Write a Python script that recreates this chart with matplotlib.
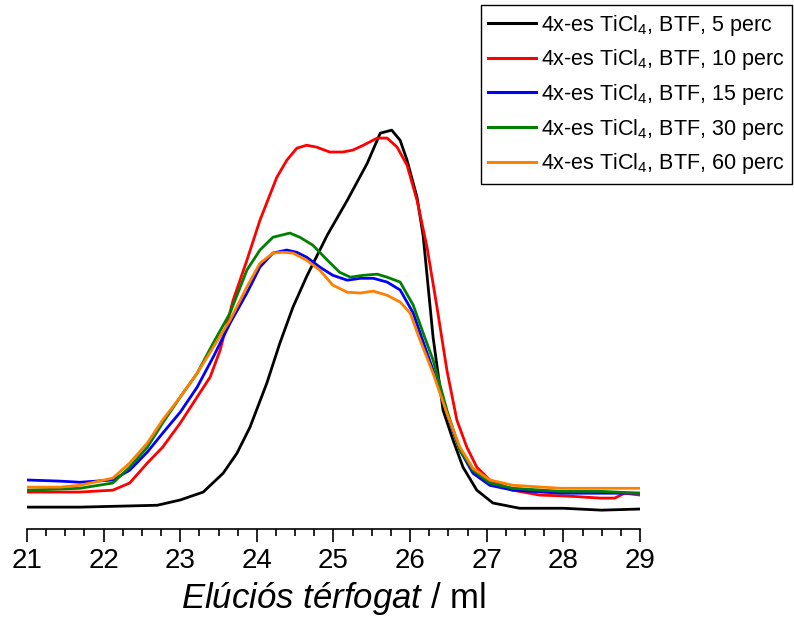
import matplotlib.pyplot as plt
import numpy as np

plt.rcParams['font.family'] = ['Liberation Sans', 'DejaVu Sans']
plt.rcParams['mathtext.fontset'] = 'custom'
plt.rcParams['mathtext.rm'] = 'Liberation Sans'
plt.rcParams['mathtext.it'] = 'Liberation Sans:italic'

# elúciós térfogat (ml) és normált jel, leolvasva
x_5 = [21.0, 21.69, 22.70, 23.00, 23.30, 23.56, 23.74, 23.91, 24.13, 24.30, 24.47, 24.65,
       24.92, 25.18, 25.44, 25.61, 25.76, 25.87, 25.96, 26.09, 26.17, 26.30, 26.43, 26.56,
       26.69, 26.87, 27.08, 27.43, 28.0, 28.5, 29.0]
y_5 = [0.0, 0.0, 0.005, 0.019, 0.04, 0.09, 0.143, 0.212, 0.329, 0.435, 0.53, 0.612,
       0.722, 0.814, 0.912, 0.992, 1.0, 0.973, 0.92, 0.822, 0.72, 0.45, 0.257, 0.178,
       0.106, 0.045, 0.011, -0.003, -0.003, -0.008, -0.005]

x_10 = [21.0, 21.69, 22.12, 22.34, 22.57, 22.77, 23.00, 23.22, 23.39, 23.52, 23.69, 23.87,
        24.04, 24.26, 24.39, 24.52, 24.65, 24.78, 24.95, 25.12, 25.25, 25.39, 25.57, 25.70,
        25.83, 25.96, 26.09, 26.22, 26.35, 26.48, 26.61, 26.74, 26.87, 27.04, 27.34, 27.69,
        28.09, 28.48, 28.67, 28.80, 29.0]
y_10 = [0.040, 0.040, 0.045, 0.064, 0.117, 0.159, 0.223, 0.292, 0.345, 0.416, 0.549, 0.655,
        0.761, 0.875, 0.920, 0.952, 0.960, 0.955, 0.942, 0.942, 0.947, 0.960, 0.979, 0.979,
        0.955, 0.907, 0.814, 0.690, 0.531, 0.363, 0.231, 0.159, 0.106, 0.072, 0.045, 0.032,
        0.029, 0.024, 0.024, 0.037, 0.032]

x_15 = [21.0, 21.43, 21.69, 22.12, 22.34, 22.57, 22.77, 23.00, 23.22, 23.43, 23.65, 23.87,
        24.04, 24.21, 24.39, 24.52, 24.65, 24.82, 24.99, 25.18, 25.35, 25.52, 25.70, 25.87,
        26.04, 26.13, 26.30, 26.48, 26.65, 26.82, 27.04, 27.34, 27.96, 28.48, 29.0]
y_15 = [0.072, 0.069, 0.066, 0.072, 0.098, 0.146, 0.196, 0.252, 0.318, 0.398, 0.488, 0.568,
        0.637, 0.674, 0.682, 0.676, 0.663, 0.637, 0.615, 0.602, 0.607, 0.607, 0.597, 0.576,
        0.515, 0.462, 0.363, 0.249, 0.151, 0.090, 0.058, 0.045, 0.037, 0.037, 0.037]

x_30 = [21.0, 21.43, 21.69, 22.12, 22.34, 22.57, 22.77, 23.00, 23.22, 23.43, 23.65, 23.87,
        24.04, 24.21, 24.43, 24.56, 24.73, 24.92, 25.08, 25.22, 25.39, 25.57, 25.70, 25.87,
        26.04, 26.17, 26.30, 26.48, 26.65, 26.82, 27.04, 27.34, 27.96, 28.48, 29.0]
y_30 = [0.045, 0.048, 0.050, 0.064, 0.106, 0.159, 0.223, 0.292, 0.355, 0.435, 0.515, 0.629,
        0.682, 0.716, 0.727, 0.716, 0.695, 0.655, 0.623, 0.610, 0.615, 0.618, 0.610, 0.597,
        0.536, 0.462, 0.390, 0.257, 0.151, 0.098, 0.064, 0.050, 0.042, 0.042, 0.037]

x_60 = [21.0, 21.43, 21.69, 22.12, 22.34, 22.57, 22.77, 23.00, 23.22, 23.43, 23.65, 23.87,
        24.04, 24.21, 24.34, 24.47, 24.65, 24.82, 24.99, 25.18, 25.35, 25.52, 25.70, 25.87,
        26.00, 26.13, 26.30, 26.48, 26.65, 26.82, 27.04, 27.34, 27.96, 28.48, 29.0]
y_60 = [0.053, 0.053, 0.058, 0.077, 0.117, 0.170, 0.231, 0.292, 0.355, 0.424, 0.496, 0.584,
        0.647, 0.674, 0.676, 0.674, 0.655, 0.629, 0.589, 0.570, 0.568, 0.573, 0.562, 0.544,
        0.515, 0.443, 0.355, 0.249, 0.159, 0.103, 0.072, 0.058, 0.050, 0.050, 0.050]

series = [
    (x_5, y_5, 'black', r'4x-es TiCl$_4$, BTF, 5 perc'),
    (x_10, y_10, 'red', r'4x-es TiCl$_4$, BTF, 10 perc'),
    (x_15, y_15, 'blue', r'4x-es TiCl$_4$, BTF, 15 perc'),
    (x_30, y_30, 'green', r'4x-es TiCl$_4$, BTF, 30 perc'),
    (x_60, y_60, '#ff7f00', r'4x-es TiCl$_4$, BTF, 60 perc'),
]

fig = plt.figure(figsize=(7.94, 6.23), dpi=100)
ax = fig.add_axes([27/794, 1-529/623, (640-27)/794, (529-5)/623])

for xs, ys, c, lab in series:
    ax.plot(xs, ys, color=c, lw=2.0, label=lab)

ax.set_xlim(21, 29)
ax.set_ylim(-0.058, 1.332)
for s in ['left', 'right', 'top']:
    ax.spines[s].set_visible(False)
ax.spines['bottom'].set_linewidth(1.2)
ax.set_yticks([])
ax.set_xticks(np.arange(21, 30, 1))
ax.set_xticks(np.arange(21, 29.01, 0.25), minor=True)
ax.tick_params(axis='x', which='major', length=9, width=1.2, labelsize=20, pad=5)
ax.tick_params(axis='x', which='minor', length=5, width=1.2)
ax.set_xlabel(r'$\mathit{Elúciós\ térfogat}$ / ml', fontsize=25, labelpad=4)

leg = fig.legend(loc='upper right', bbox_to_anchor=(792/794, 1-5/623), fontsize=15.5,
                 frameon=True, fancybox=False, framealpha=1, edgecolor='black',
                 handlelength=2.2, handletextpad=0.25, labelspacing=0.45,
                 borderpad=0.35, borderaxespad=0)
leg.get_frame().set_linewidth(1.0)
for line in leg.get_lines():
    line.set_linewidth(2.2)

fig.savefig('out.png', dpi=100)
